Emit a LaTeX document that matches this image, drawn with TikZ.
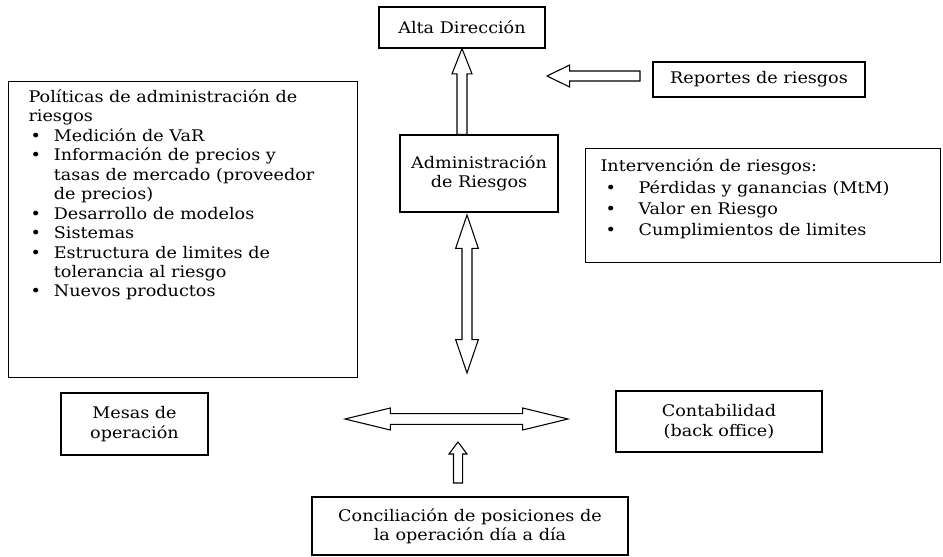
\documentclass[tikz,border=0pt]{standalone}
\usepackage{fontspec}
\setmainfont{DejaVu Serif}[FakeStretch=1.1]
\usetikzlibrary{calc}

\newcommand{\bul}[2]{\makebox[#2][l]{\hspace*{#1}\textbullet}}

\begin{document}
\begin{tikzpicture}[
     x = 0.75pt, y = -0.75pt,
     font = \fontsize{12}{14.6}\selectfont,
     box/.style = {draw, line width = 0.8pt, inner sep = 0pt, align = center},
     listbox/.style = {draw, line width = 0.8pt, anchor = north west, inner ysep = 6pt},
     sarrow/.style n args = {3}{draw, line width = 0.8pt, fill = white,
       to path = {let \p1 = (\tikztostart), \p2 = (\tikztotarget),
         \n1 = {atan2(\y2-\y1,\x2-\x1)}, \n2 = {veclen(\x2-\x1,\y2-\y1)} in
         [shift = {(\p1)}, rotate = \n1]
         (0pt,-#1) -- (\n2-#3,-#1) -- (\n2-#3,-#2) -- (\n2,0pt)
         -- (\n2-#3,#2) -- (\n2-#3,#1) -- (0pt,#1) -- cycle}},
     darrow/.style n args = {3}{draw, line width = 0.8pt, fill = white,
       to path = {let \p1 = (\tikztostart), \p2 = (\tikztotarget),
         \n1 = {atan2(\y2-\y1,\x2-\x1)}, \n2 = {veclen(\x2-\x1,\y2-\y1)} in
         [shift = {(\p1)}, rotate = \n1]
         (0pt,0pt) -- (#3,#2) -- (#3,#1) -- (\n2-#3,#1) -- (\n2-#3,#2)
         -- (\n2,0pt) -- (\n2-#3,-#2) -- (\n2-#3,-#1) -- (#3,-#1)
         -- (#3,-#2) -- cycle}}
    ]
    \useasboundingbox (0,0) rectangle (943,557);

    % top row
    \node[box, minimum width = 124.5pt, minimum height = 30.75pt] (alta) at (462,27.5) {Alta Dirección};
    \node[box, minimum width = 159pt, minimum height = 26.25pt] (reportes) at (759,79.5) {Reportes de riesgos};
    \node[box, minimum width = 118.5pt, minimum height = 57.75pt] (admin) at (479,173.5) {Administración\\de Riesgos};

    % the two lists
    \node[listbox, inner xsep = 15pt] (politicas) at (8,81) {\parbox[t][210pt][t]{231.75pt}{\raggedright
      Políticas de administración de\\
      riesgos\\
      \bul{1.5pt}{19pt}Medición de VaR\\
      \bul{1.5pt}{19pt}Información de precios y\\
      \hspace*{19pt}tasas de mercado (proveedor\\
      \hspace*{19pt}de precios)\\
      \bul{1.5pt}{19pt}Desarrollo de modelos\\
      \bul{1.5pt}{19pt}Sistemas\\
      \bul{1.5pt}{19pt}Estructura de limites de\\
      \hspace*{19pt}tolerancia al riesgo\\
      \bul{1.5pt}{19pt}Nuevos productos}};
    \node[listbox, inner xsep = 11.25pt, inner ysep = 8pt] (intervencion) at (585,148) {\parbox[t][69.5pt][t]{243.75pt}{\raggedright
      \fontsize{12}{16}\selectfont
      Intervención de riesgos:\\
      \bul{3.75pt}{28.5pt}Pérdidas y ganancias (MtM)\\
      \bul{3.75pt}{28.5pt}Valor en Riesgo\\
      \bul{3.75pt}{28.5pt}Cumplimientos de limites}};

    % bottom row
    \node[box, minimum width = 110.25pt, minimum height = 46.5pt] (mesas) at (134.5,424) {Mesas de\\operación};
    \node[box, minimum width = 154.5pt, minimum height = 45.75pt] (contab) at (719,421.5) {Contabilidad\\(back office)};
    \node[box, minimum width = 237pt, minimum height = 43.5pt] (concil) at (470,526) {Conciliación de posiciones de\\la operación día a día};

    % free ends of the arrows
    \coordinate (rtail) at (640,76);
    \coordinate (rtip) at (547,76);
    \coordinate (vtop) at (467,215);
    \coordinate (vbot) at (467,373);
    \coordinate (hleft) at (345,419);
    \coordinate (hright) at (568,419);
    \coordinate (ctail) at (458,483);
    \coordinate (ctip) at (458,442);

    \draw[sarrow = {3.75pt}{7.5pt}{19pt}] (admin.north -| alta.south) to (alta.south);
    \draw[sarrow = {3.75pt}{8.25pt}{17pt}] (rtail) to (rtip);
    \draw[darrow = {3.75pt}{8.5pt}{25pt}] (vtop) to (vbot);
    \draw[darrow = {4pt}{8.25pt}{34pt}] (hleft) to (hright);
    \draw[sarrow = {3.4pt}{6.75pt}{9pt}] (ctail) to (ctip);
   \end{tikzpicture}
\end{document}
